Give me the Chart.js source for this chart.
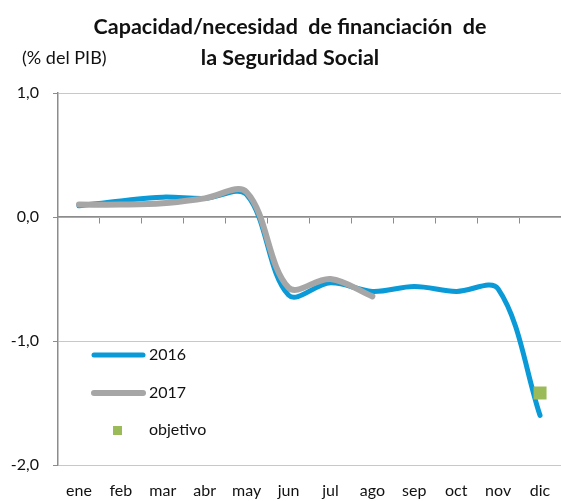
<!DOCTYPE html>
<html><head><meta charset="utf-8">
<script src="https://cdn.jsdelivr.net/npm/chart.js@4/dist/chart.umd.min.js"></script>
<style>html,body{margin:0;padding:0;background:#fff}#wrap{width:561px;height:501px;position:relative}</style>
</head><body><div id="wrap"><canvas id="c" width="561" height="501"></canvas></div>
<script>
const months = ['ene','feb','mar','abr','may','jun','jul','ago','sep','oct','nov','dic'];
const serie2016 = [0.09, 0.13, 0.16, 0.15, 0.18, -0.63, -0.53, -0.60, -0.56, -0.60, -0.58, -1.60];
const serie2017 = [0.10, 0.10, 0.11, 0.15, 0.20, -0.57, -0.50, -0.64, null, null, null, null];
const objetivo  = [null, null, null, null, null, null, null, null, null, null, null, -1.42];
const seriesNames = ['2016', '2017', 'objetivo'];
const yMin = -2, yMax = 1, yStep = 1;
const titleLines = ['Capacidad/necesidad  de financiación  de', 'la Seguridad Social'];
const unitLabel = '(% del PIB)';

const FONT = "Lato, 'Open Sans', sans-serif";
const BLUE = '#0A9AD7', GRAY = '#A6A6A6', GREEN = '#9BBB59';

const overlay = {
  id: 'overlay',
  afterDraw(chart) {
    const ctx = chart.ctx;
    ctx.save();
    ctx.fillStyle = '#111';
    ctx.textBaseline = 'middle';
    ctx.textAlign = 'center';
    ctx.font = 'bold 21.5px ' + FONT;
    ctx.fillText(titleLines[0], 290, 27);
    ctx.fillText(titleLines[1], 290, 58);
    ctx.textAlign = 'left';
    ctx.font = '18px ' + FONT;
    ctx.fillText(unitLabel, 22, 58);
    // legend
    const rows = [355, 393, 430];
    chart.data.datasets.forEach((ds, i) => {
      const y = rows[i];
      if (ds.showLine === false) {
        ctx.fillStyle = ds.backgroundColor;
        ctx.fillRect(113, y - 4, 9, 9);
      } else {
        ctx.strokeStyle = ds.borderColor;
        ctx.lineWidth = ds.borderWidth;
        ctx.lineCap = 'round';
        ctx.beginPath(); ctx.moveTo(94, y); ctx.lineTo(143, y); ctx.stroke();
      }
      ctx.fillStyle = '#111';
      ctx.font = '16px ' + FONT;
      ctx.fillText(ds.label, 149, y);
    });
    ctx.restore();
  }
};

new Chart(document.getElementById('c'), {
  type: 'line',
  data: {
    labels: months,
    datasets: [
      { label: seriesNames[0], data: serie2016, borderColor: BLUE, backgroundColor: BLUE, borderWidth: 5,
        tension: 0.35, pointRadius: 0, borderCapStyle: 'round', borderJoinStyle: 'round', spanGaps: false, order: 3 },
      { label: seriesNames[1], data: serie2017, borderColor: GRAY, backgroundColor: GRAY, borderWidth: 6,
        tension: 0.35, pointRadius: 0, borderCapStyle: 'round', borderJoinStyle: 'round', order: 2 },
      { label: seriesNames[2], data: objetivo, showLine: false, backgroundColor: GREEN, borderColor: GREEN,
        pointStyle: 'rect', pointRadius: 9.2, pointBorderWidth: 0, order: 1 }
    ]
  },
  options: {
    responsive: false, animation: false, devicePixelRatio: 1,
    layout: { autoPadding: false, padding: { top: 93, right: 0, left: 0, bottom: 0 } },
    plugins: { legend: { display: false }, title: { display: false }, tooltip: { enabled: false } },
    scales: {
      x: {
        type: 'category', position: 'bottom', offset: true,
        grid: { display: false, drawTicks: true, tickLength: 16 }, border: { display: false },
        ticks: { color: '#111', font: { family: FONT, size: 16 }, padding: 0, maxRotation: 0, autoSkip: false },
        afterFit(s) { s.height = 36; }
      },
      x0: {
        type: 'category', axis: 'x', position: { y: 0 }, offset: true,
        grid: { offset: true, drawOnChartArea: false, drawTicks: true, tickLength: 6, color: '#8c8c8c', lineWidth: 1 },
        border: { display: true, color: '#8c8c8c', width: 1.5 },
        ticks: { display: false }
      },
      y: {
        min: yMin, max: yMax,
        ticks: { stepSize: yStep, color: '#111', font: { family: FONT, size: 16 }, padding: 14,
          callback: v => v.toFixed(1).replace('.', ',') },
        grid: { color: '#c8c8c8', lineWidth: 1, tickLength: 5, tickColor: '#8c8c8c' },
        border: { color: '#8c8c8c', width: 1.5 },
        afterFit(s) { s.width = 58; }
      }
    }
  },
  plugins: [overlay]
});
</script>
</body></html>
